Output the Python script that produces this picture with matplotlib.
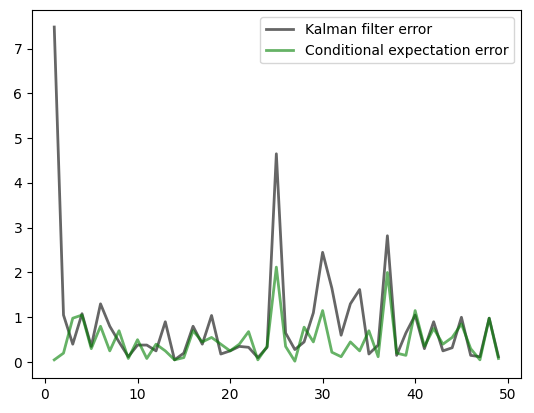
import matplotlib
matplotlib.use("Agg")
import matplotlib.pyplot as plt

steps = list(range(1, 50))
kalman_err = [7.48, 1.05, 0.4, 1.08, 0.35, 1.3, 0.8, 0.45, 0.12, 0.38, 0.38, 0.25, 0.9, 0.05, 0.2,
              0.8, 0.4, 1.04, 0.18, 0.25, 0.35, 0.33, 0.1, 0.33, 4.65, 0.65, 0.28, 0.45, 1.1, 2.45,
              1.65, 0.6, 1.3, 1.62, 0.18, 0.38, 2.82, 0.15, 0.65, 1.05, 0.3, 0.9, 0.25, 0.32, 1.0,
              0.15, 0.12, 0.98, 0.12]
cond_err = [0.05, 0.2, 0.98, 1.05, 0.3, 0.8, 0.25, 0.7, 0.08, 0.5, 0.08, 0.4, 0.25, 0.05, 0.1,
            0.7, 0.45, 0.55, 0.4, 0.25, 0.4, 0.68, 0.05, 0.35, 2.12, 0.35, 0.02, 0.78, 0.45, 1.15,
            0.22, 0.12, 0.45, 0.25, 0.7, 0.12, 2.0, 0.2, 0.15, 1.15, 0.35, 0.75, 0.4, 0.55, 0.85,
            0.3, 0.05, 0.98, 0.08]

fig, ax = plt.subplots(figsize=(5.34, 4.13), dpi=100)
ax.plot(steps, kalman_err, color='k', lw=2, alpha=0.6, label='Kalman filter error')
ax.plot(steps, cond_err, color='g', lw=2, alpha=0.6, label='Conditional expectation error')
ax.legend()
fig.subplots_adjust(left=0.06, right=0.975, top=0.975, bottom=0.085)
fig.savefig('out.png')
